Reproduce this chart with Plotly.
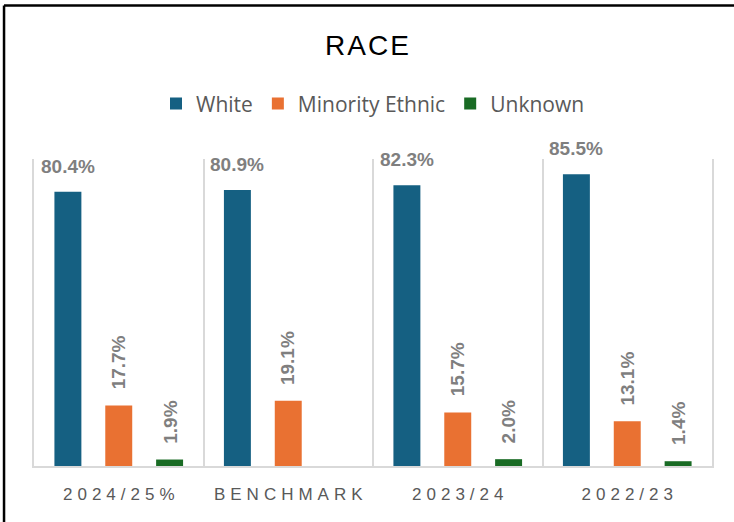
import plotly.graph_objects as go

categories = ["2024/25%", "BENCHMARK", "2023/24", "2022/23"]
series_names = ["White", "Minority Ethnic", "Unknown"]
white = [80.4, 80.9, 82.3, 85.5]
minority = [17.7, 19.1, 15.7, 13.1]
unknown = [1.9, None, 2.0, 1.4]
colors = ["#156082", "#E97132", "#196B24"]
label_angles = [0, -90, -90]

values = [white, minority, unknown]

fig = go.Figure()
for name, vals, col in zip(series_names, values, colors):
    fig.add_trace(go.Bar(
        x=categories, y=vals, name=name,
        marker=dict(color=col, line=dict(width=0)),
    ))

# data labels
slot_px = 51
label_font = dict(family="Liberation Sans, Arial, sans-serif", size=19, color="#7f7f7f")
for i, (vals, ang) in enumerate(zip(values, label_angles)):
    for cat, v in zip(categories, vals):
        if v is None:
            continue
        fig.add_annotation(
            x=cat, y=v, xref="x", yref="y",
            text=f"<b>{v:.1f}%</b>",
            showarrow=False, textangle=ang,
            xshift=(i - 1) * slot_px, yshift=13 if ang == 0 else 14,
            yanchor="bottom", xanchor="center",
            font=label_font,
        )

# outer border (top and left)
fig.add_shape(type="line", xref="paper", yref="paper",
              x0=-0.0442, x1=1.04, y0=1.5, y1=1.5,
              line=dict(color="black", width=2.5))
fig.add_shape(type="line", xref="paper", yref="paper",
              x0=-0.0442, x1=-0.0442, y0=1.5, y1=-0.2,
              line=dict(color="black", width=2.5))

fig.update_layout(
    width=734, height=522,
    paper_bgcolor="white", plot_bgcolor="white",
    margin=dict(l=34, r=22, t=159, b=56),
    barmode="group", bargap=0.1, bargroupgap=0.47,
    title=dict(text="RACE", x=0.5, xanchor="center", y=0.914, yanchor="middle",
               font=dict(family="Liberation Sans, Arial, sans-serif", size=28, color="#000000")),
    legend=dict(orientation="h", x=0.5, xanchor="center", y=1.18, yanchor="middle",
                font=dict(family="Open Sans, Liberation Sans, sans-serif", size=21, color="#595959"),
                itemwidth=30, traceorder="normal"),
    showlegend=True,
)
fig.update_xaxes(
    type="category", tickson="boundaries", showgrid=True, gridcolor="#d9d9d9", gridwidth=1.5,
    showline=True, linecolor="#d9d9d9", linewidth=1.5, ticks="",
    tickfont=dict(family="Liberation Sans, Arial, sans-serif", size=17, color="#595959"),
    ticklabelstandoff=12,
)
fig.update_yaxes(
    range=[0, 90], showgrid=False, showticklabels=False, zeroline=False,
    showline=True, mirror=True, linecolor="#d9d9d9", linewidth=1.5, ticks="",
)

post_js = """
document.body.style.margin = '0px';
function spaceText() {
  document.querySelectorAll('.xtick text').forEach(function (t) {
    t.style.letterSpacing = '5px';
    t.setAttribute('dx', '2.5');
  });
  document.querySelectorAll('.gtitle').forEach(function (t) {
    t.style.letterSpacing = '2px';
    t.setAttribute('dx', '1');
  });
}
spaceText();
"""

fig.write_html("out.html", post_script=post_js, config={"displayModeBar": False})
